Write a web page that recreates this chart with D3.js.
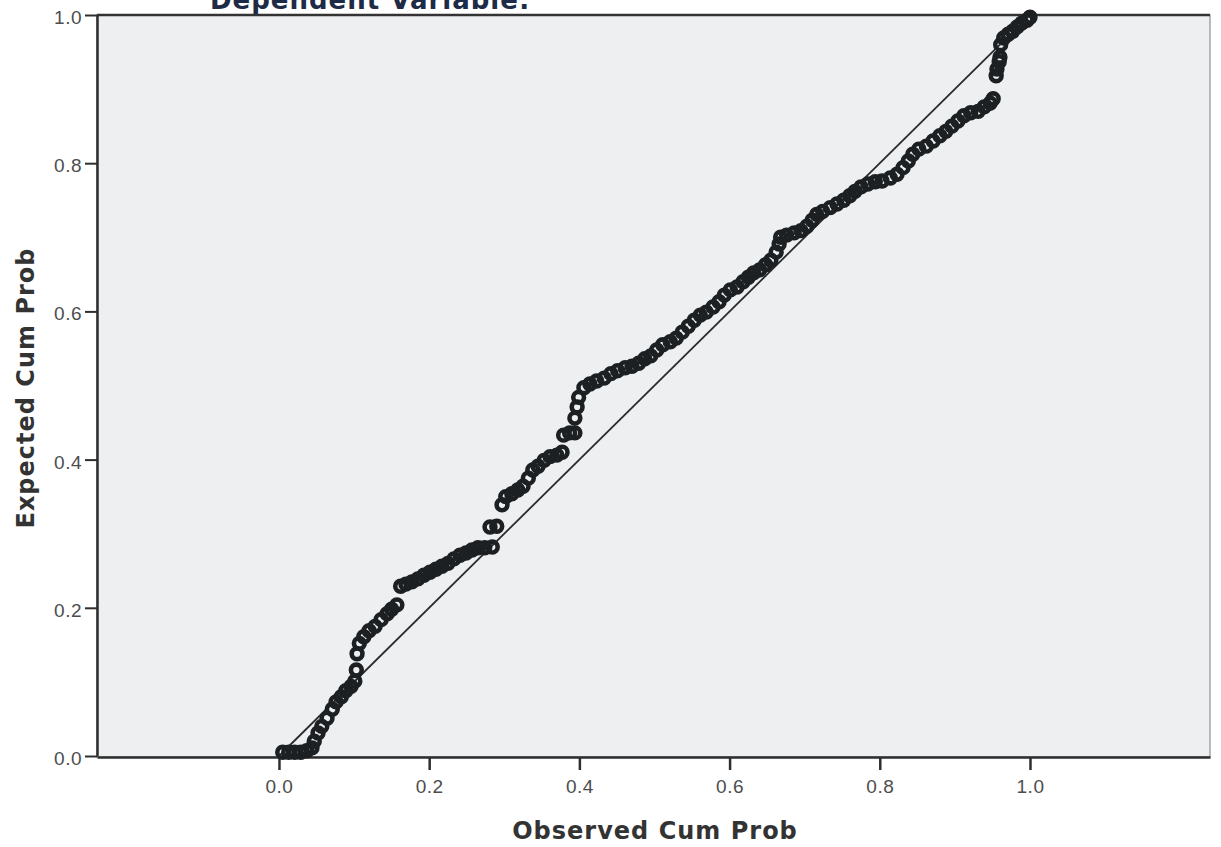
<!DOCTYPE html>
<html>
<head>
<meta charset="utf-8">
<script src="https://cdn.jsdelivr.net/npm/d3@7"></script>
<style>
  body { margin: 0; background: #fff; }
  #chart { display: block; }
  .tick text { font-family: "Liberation Sans", Arial, sans-serif; font-size: 19px; fill: #4d4d4d; letter-spacing: 0.5px; }
  .axis-title { font-family: "DejaVu Sans", Verdana, sans-serif; font-weight: bold; font-size: 24px; fill: #333; }
</style>
</head>
<body>
<svg id="chart" width="1221" height="847"></svg>
<script>
// observed cumulative probability (x) and expected cumulative probability (y)
var observed = [
  0.005, 0.013, 0.021, 0.029, 0.037, 0.044, 0.047, 0.052, 0.057, 0.064,
  0.071, 0.076, 0.083, 0.089, 0.096, 0.101, 0.103, 0.104, 0.107, 0.113,
  0.120, 0.128, 0.136, 0.144, 0.150, 0.157, 0.162, 0.169, 0.177, 0.185,
  0.193, 0.201, 0.209, 0.217, 0.225, 0.233, 0.241, 0.249, 0.257, 0.265,
  0.274, 0.284, 0.281, 0.290, 0.297, 0.302, 0.310, 0.318, 0.325, 0.332,
  0.338, 0.345, 0.353, 0.361, 0.370, 0.377, 0.379, 0.387, 0.394, 0.394,
  0.397, 0.399, 0.406, 0.414, 0.423, 0.433, 0.442, 0.451, 0.461, 0.470,
  0.479, 0.487, 0.495, 0.503, 0.511, 0.521, 0.529, 0.537, 0.545, 0.553,
  0.561, 0.569, 0.578, 0.586, 0.593, 0.601, 0.610, 0.618, 0.625, 0.632,
  0.640, 0.648, 0.655, 0.662, 0.666, 0.668, 0.676, 0.686, 0.695, 0.703,
  0.710, 0.716, 0.724, 0.734, 0.743, 0.752, 0.760, 0.767, 0.775, 0.784,
  0.794, 0.803, 0.814, 0.823, 0.831, 0.838, 0.844, 0.852, 0.862, 0.871,
  0.880, 0.888, 0.896, 0.904, 0.912, 0.921, 0.931, 0.939, 0.947, 0.951,
  0.955, 0.956, 0.959, 0.960, 0.961, 0.965, 0.971, 0.977, 0.983, 0.989,
  0.996, 1.000
];
var expected = [
  0.005, 0.005, 0.005, 0.005, 0.007, 0.011, 0.020, 0.031, 0.040, 0.051,
  0.063, 0.073, 0.080, 0.088, 0.094, 0.101, 0.116, 0.138, 0.152, 0.161,
  0.169, 0.175, 0.184, 0.192, 0.198, 0.204, 0.229, 0.232, 0.235, 0.239,
  0.244, 0.248, 0.252, 0.256, 0.260, 0.266, 0.271, 0.274, 0.278, 0.281,
  0.281, 0.282, 0.309, 0.310, 0.339, 0.350, 0.354, 0.359, 0.364, 0.375,
  0.386, 0.391, 0.399, 0.404, 0.406, 0.410, 0.433, 0.436, 0.436, 0.456,
  0.471, 0.484, 0.497, 0.502, 0.506, 0.510, 0.516, 0.520, 0.524, 0.526,
  0.530, 0.536, 0.540, 0.548, 0.555, 0.559, 0.564, 0.572, 0.580, 0.588,
  0.595, 0.599, 0.606, 0.613, 0.622, 0.629, 0.633, 0.640, 0.646, 0.652,
  0.656, 0.663, 0.669, 0.680, 0.691, 0.700, 0.703, 0.706, 0.709, 0.715,
  0.723, 0.731, 0.735, 0.740, 0.745, 0.750, 0.756, 0.762, 0.768, 0.772,
  0.775, 0.776, 0.780, 0.785, 0.794, 0.803, 0.812, 0.819, 0.823, 0.830,
  0.837, 0.843, 0.850, 0.857, 0.864, 0.868, 0.870, 0.876, 0.881, 0.887,
  0.918, 0.927, 0.937, 0.943, 0.960, 0.969, 0.974, 0.978, 0.984, 0.989,
  0.993, 0.997
];
var xTicks = [0, 0.2, 0.4, 0.6, 0.8, 1.0];
var yTicks = [0, 0.2, 0.4, 0.6, 0.8, 1.0];
var refLine = [[0, 0], [1, 1]];

// plot frame in pixels
var plotLeft = 97, plotRight = 1210, plotTop = 15, plotBottom = 757;

var svg = d3.select("#chart");

var xScale = d3.scaleLinear()
  .domain([-0.2423, 1.2397])
  .range([plotLeft, plotRight]);

var yScale = d3.scaleLinear()
  .domain([0, 1])
  .range([plotBottom - 1, plotTop]);

// title, cut off at the top like the source
svg.append("text")
  .attr("x", 210)
  .attr("y", 9)
  .attr("font-family", "DejaVu Sans, Verdana, sans-serif")
  .attr("font-weight", "bold")
  .attr("font-size", 26)
  .attr("letter-spacing", 1)
  .attr("fill", "#1d2b46")
  .text("Dependent Variable:");

// plot background
svg.append("rect")
  .attr("x", plotLeft)
  .attr("y", plotTop)
  .attr("width", plotRight - plotLeft)
  .attr("height", plotBottom - plotTop)
  .attr("fill", "#edeff0")
  .attr("stroke", "#8f8f8f")
  .attr("stroke-width", 1.2);

// top border
svg.append("line")
  .attr("x1", plotLeft).attr("x2", plotRight)
  .attr("y1", plotTop).attr("y2", plotTop)
  .attr("stroke", "#333").attr("stroke-width", 2.5);

// x axis
var xAxis = svg.append("g")
  .attr("class", "x axis")
  .attr("transform", "translate(0," + plotBottom + ")")
  .call(d3.axisBottom(xScale).tickValues(xTicks).tickFormat(d3.format(".1f")).tickSize(13).tickSizeOuter(0).tickPadding(10));
xAxis.select(".domain").attr("stroke", "#2e2e2e").attr("stroke-width", 2.5);
xAxis.selectAll(".tick line").attr("stroke", "#2e2e2e").attr("stroke-width", 2.5);

// y axis
var yAxis = svg.append("g")
  .attr("class", "y axis")
  .attr("transform", "translate(" + plotLeft + ",0)")
  .call(d3.axisLeft(yScale).tickValues(yTicks).tickFormat(d3.format(".1f")).tickSize(12).tickSizeOuter(0).tickPadding(3));
yAxis.select(".domain").attr("stroke", "#2e2e2e").attr("stroke-width", 2.5);
yAxis.selectAll(".tick line").attr("stroke", "#2e2e2e").attr("stroke-width", 2);
yAxis.selectAll(".tick text").attr("dy", "0.45em");

// reference line
var line = d3.line()
  .x(function (d) { return xScale(d[0]); })
  .y(function (d) { return yScale(d[1]); });

svg.append("path")
  .datum(refLine)
  .attr("d", line)
  .attr("fill", "none")
  .attr("stroke", "#2b2b2b")
  .attr("stroke-width", 1.8);

// points
svg.selectAll(".dot")
  .data(d3.range(observed.length))
  .enter().append("circle")
  .attr("class", "dot")
  .attr("cx", function (i) { return xScale(observed[i]); })
  .attr("cy", function (i) { return yScale(expected[i]); })
  .attr("r", 5.4)
  .attr("fill", "none")
  .attr("stroke", "#1c2023")
  .attr("stroke-width", 4.6);

// axis titles
svg.append("text")
  .attr("class", "axis-title")
  .attr("x", 655)
  .attr("y", 839)
  .attr("text-anchor", "middle")
  .attr("letter-spacing", 1)
  .text("Observed Cum Prob");

svg.append("text")
  .attr("class", "axis-title")
  .attr("transform", "translate(34,388) rotate(-90)")
  .attr("text-anchor", "middle")
  .attr("letter-spacing", 1)
  .text("Expected Cum Prob");
</script>
</body>
</html>
